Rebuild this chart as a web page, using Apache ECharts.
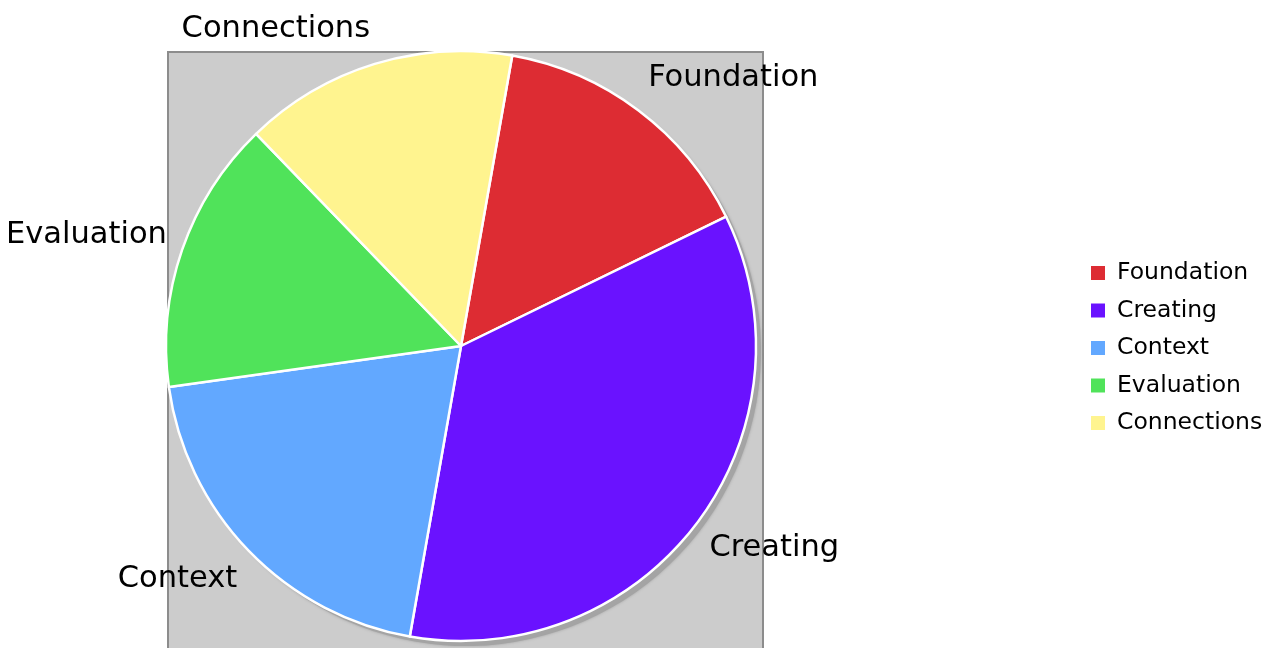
<!DOCTYPE html>
<html>
<head>
<meta charset="utf-8">
<script src="https://cdn.jsdelivr.net/npm/echarts@6/dist/echarts.min.js"></script>
<style>
html,body{margin:0;padding:0;background:#fff;}
#chart{width:1276px;height:648px;}
</style>
</head>
<body>
<div id="chart"></div>
<script>
const categories = ['Foundation', 'Creating', 'Context', 'Evaluation', 'Connections'];
const values = [15, 35, 20, 15, 15];
const colors = ['#dd2c33', '#6a12ff', '#62a8ff', '#50e35a', '#fff48f'];

const FONT = '"DejaVu Sans", Verdana, sans-serif';
const CX = 461, CY = 346, R = 295;

const chart = echarts.init(document.getElementById('chart'));
chart.setOption({
  animation: false,
  backgroundColor: '#ffffff',
  graphic: [{
    type: 'rect',
    z: -10,
    silent: true,
    shape: { x: 168, y: 52, width: 595, height: 610 },
    style: { fill: '#cccccc', stroke: '#8c8c8c', lineWidth: 2 }
  }],
  legend: {
    orient: 'vertical',
    left: 1089,
    top: 261,
    padding: 0,
    itemWidth: 16,
    itemHeight: 16,
    itemGap: 13.5,
    icon: 'rect',
    data: categories,
    textStyle: { fontFamily: FONT, fontSize: 23.5, color: '#000', lineHeight: 23, padding: [0, 0, 0, 6] }
  },
  series: [
    {
      type: 'pie',
      silent: true,
      center: [CX + 5, CY + 5],
      radius: R,
      startAngle: 80,
      label: { show: false },
      labelLine: { show: false },
      itemStyle: { color: '#a4a4a4', shadowBlur: 3, shadowColor: '#a4a4a4' },
      data: [{ value: 1, name: '__shadow' }],
      z: 1
    },
    {
      type: 'pie',
      center: [CX, CY],
      radius: R,
      startAngle: 80,
      clockwise: true,
      avoidLabelOverlap: false,
      itemStyle: { borderColor: '#ffffff', borderWidth: 2.5 },
      label: {
        show: true,
        position: 'outside',
        fontFamily: FONT,
        fontSize: 30.5,
        color: '#000',
        distanceToLabelLine: 0
      },
      labelLine: { show: false, length: 16, length2: 0 },
      labelLayout: function (p) {
        const r = p.labelRect;
        const ya = r.y + r.height / 2;
        const xa = r.x + r.width / 2 < CX ? r.x + r.width : r.x;
        const d = Math.hypot(xa - CX, ya - CY) || 1;
        const ratio = (ya - CY) / d;
        const dy = ratio < 0
          ? Math.max(-0.62 * r.height, r.height * ratio)
          : Math.min(0.58 * r.height, 0.8 * r.height * ratio);
        return { dy: dy };
      },
      emphasis: { disabled: true },
      data: categories.map((c, i) => ({ name: c, value: values[i], itemStyle: { color: colors[i] } })),
      z: 2
    }
  ]
});
</script>
</body>
</html>
